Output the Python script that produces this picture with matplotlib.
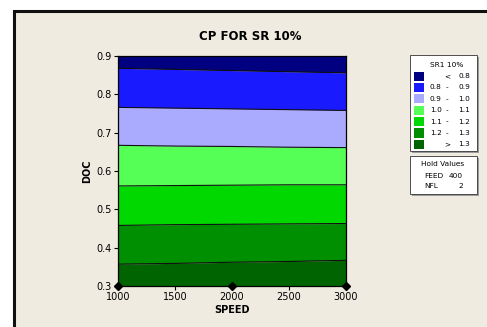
import matplotlib
matplotlib.use("Agg")
import matplotlib.pyplot as plt
from matplotlib.patches import Rectangle
import numpy as np

speed = [1000, 1500, 2000, 2500, 3000]

# DOC of each contour boundary (SR1 level) along SPEED
doc_08 = [0.868, 0.865, 0.862, 0.859, 0.856]
doc_09 = [0.766, 0.764, 0.762, 0.760, 0.758]
doc_10 = [0.667, 0.665, 0.664, 0.662, 0.661]
doc_11 = [0.561, 0.562, 0.563, 0.564, 0.564]
doc_12 = [0.458, 0.460, 0.461, 0.462, 0.463]
doc_13 = [0.357, 0.359, 0.362, 0.364, 0.367]

lo_vals = ["", "0.8", "0.9", "1.0", "1.1", "1.2", ""]
mid_sym = ["<", "-", "-", "-", "-", "-", ">"]
hi_vals = ["0.8", "0.9", "1.0", "1.1", "1.2", "1.3", "1.3"]
colors = ["#000080", "#1a1aff", "#aaaaff", "#55ff55", "#00d800", "#008f00", "#006400"]

design_speed = [1000, 2000, 3000]
hold_names = ["FEED", "NFL"]
hold_vals = ["400", "2"]

bg = "#efebe1"
fig = plt.figure(figsize=(4.87, 3.27), dpi=100)
fig.patch.set_facecolor("white")

# beige panel with dark frame on top/left
fig.patches.append(Rectangle((14 / 487, -0.1), 1.2, (327 - 11) / 327 + 0.1,
                             transform=fig.transFigure, facecolor=bg,
                             edgecolor="#111111", linewidth=2.2, zorder=-5))

ax = fig.add_axes([118 / 487, 1 - 286 / 327, 228 / 487, 230 / 327])
ax.set_zorder(2)
ax.set_xlim(1000, 3000)
ax.set_ylim(0.3, 0.9)

bounds = [np.full(len(speed), 0.9), doc_08, doc_09, doc_10, doc_11, doc_12, doc_13,
          np.full(len(speed), 0.3)]
for i, c in enumerate(colors):
    ax.fill_between(speed, bounds[i + 1], bounds[i], color=c, linewidth=0)
for b in bounds[1:-1]:
    ax.plot(speed, b, color="#101010", lw=0.8)

ax.plot(design_speed, [0.3] * len(design_speed), "D", color="black", ms=4,
        clip_on=False, zorder=5)

ax.set_xticks([1000, 1500, 2000, 2500, 3000])
ax.set_yticks([0.3, 0.4, 0.5, 0.6, 0.7, 0.8, 0.9])
ax.tick_params(labelsize=7, length=3, width=0.8, pad=1.5, colors="black")
for s in ax.spines.values():
    s.set_linewidth(0.9)
ax.set_xlabel("SPEED", fontsize=7, fontweight="bold", labelpad=2)
ax.set_ylabel("DOC", fontsize=7, fontweight="bold", labelpad=3)

fig.text(250 / 487, 1 - 36 / 327, "CP FOR SR 10%", ha="center", va="center",
         fontsize=8.5, fontweight="bold")

# legend box
def px(x, y):
    return x / 487, 1 - y / 327

def box(x0, y0, x1, y1):
    fig.patches.append(Rectangle(px(x0 + 2, y1 + 2), (x1 - x0) / 487, (y1 - y0) / 327,
                                 transform=fig.transFigure, facecolor="#9a9a9a",
                                 edgecolor="none", zorder=1))
    fig.patches.append(Rectangle(px(x0, y1), (x1 - x0) / 487, (y1 - y0) / 327,
                                 transform=fig.transFigure, facecolor="white",
                                 edgecolor="#333333", linewidth=0.6, zorder=2))

box(410, 55, 477, 151)
fig.text(*px(447, 65), "SR1 10%", ha="center", va="center", fontsize=5.3, zorder=3)
for i, c in enumerate(colors):
    yc = 76 + i * 11.4
    fig.patches.append(Rectangle(px(414, yc + 4.5), 10 / 487, 9 / 327,
                                 transform=fig.transFigure, facecolor=c,
                                 edgecolor="none", zorder=3))
    fig.text(*px(430, yc), lo_vals[i], ha="left", va="center", fontsize=5.3, zorder=3)
    fig.text(*px(447, yc), mid_sym[i], ha="center", va="center", fontsize=5.3, zorder=3)
    fig.text(*px(470, yc), hi_vals[i], ha="right", va="center", fontsize=5.3, zorder=3)

box(410, 156, 477, 194)
fig.text(*px(443, 164), "Hold Values", ha="center", va="center", fontsize=5.3, zorder=3)
for i, (n, v) in enumerate(zip(hold_names, hold_vals)):
    yc = 175.5 + i * 10.5
    fig.text(*px(424, yc), n, ha="left", va="center", fontsize=5.3, zorder=3)
    fig.text(*px(463, yc), v, ha="right", va="center", fontsize=5.3, zorder=3)

fig.savefig("out.png", dpi=100, facecolor=fig.get_facecolor())
